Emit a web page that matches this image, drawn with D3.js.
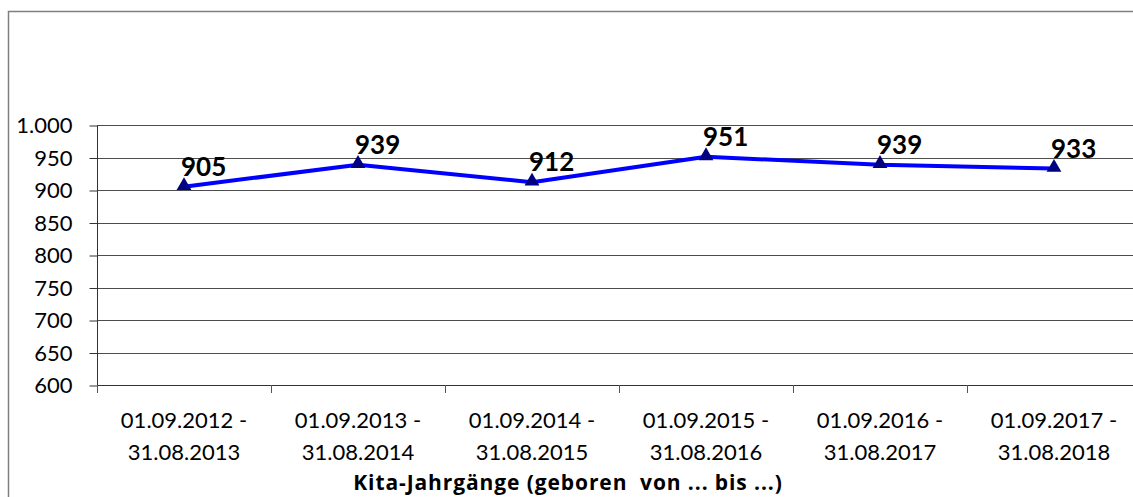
<!DOCTYPE html>
<html>
<head>
<meta charset="utf-8">
<script src="https://cdn.jsdelivr.net/npm/d3@7"></script>
<style>
  body { margin: 0; background: #fff; }
  svg { display: block; font-family: Lato, "Open Sans", sans-serif; }
</style>
</head>
<body>
<div id="chart"></div>
<script>
// chart data
const periodStart = ["01.09.2012 -", "01.09.2013 -", "01.09.2014 -", "01.09.2015 -", "01.09.2016 -", "01.09.2017 -"];
const periodEnd = ["31.08.2013", "31.08.2014", "31.08.2015", "31.08.2016", "31.08.2017", "31.08.2018"];
const children = [905, 939, 912, 951, 939, 933];
const yTicks = [600, 650, 700, 750, 800, 850, 900, 950, 1000];
const xTitle = "Kita-Jahrgänge (geboren  von ... bis ...)";

const width = 1133, height = 497;
let margin = ({top: 125, left: 97, bandW: 174, bottom: 385});

const svg = d3.select("#chart").append("svg")
    .attr("width", width)
    .attr("height", height);

// outer frame (cut off on the right / bottom like the source)
svg.append("rect")
    .attr("x", 8.5).attr("y", 11.5)
    .attr("width", width + 20).attr("height", height + 20)
    .attr("fill", "none")
    .attr("stroke", "#7f7f7f")
    .attr("stroke-width", 1.5);

let x = d3.scaleBand()
    .domain(d3.range(children.length))
    .range([margin.left, margin.left + margin.bandW * children.length]);

let y = d3.scaleLinear()
    .domain([600, 1000])
    .range([margin.bottom, margin.top]);

let deFormat = d3.formatLocale({decimal: ",", thousands: ".", grouping: [3], currency: ["", " €"]}).format(",d");

// gridlines
svg.append("g")
    .selectAll("line")
    .data(yTicks.filter(d => d > 600))
    .join("line")
      .attr("x1", margin.left).attr("x2", width)
      .attr("y1", d => Math.round(y(d)) + 0.5)
      .attr("y2", d => Math.round(y(d)) + 0.5)
      .attr("stroke", "#4d4d4d")
      .attr("stroke-width", 1);

// y axis
let yAxis = g => g
    .attr("transform", `translate(${margin.left + 0.5},0.5)`)
    .call(d3.axisLeft(y).tickValues(yTicks).tickSize(8).tickPadding(17).tickFormat(deFormat))
    .call(g => g.select(".domain").attr("stroke", "#333").attr("d", `M0,${y(1000)}V${y(600)}`))
    .call(g => g.selectAll(".tick line").attr("stroke", "#333"))
    .call(g => g.selectAll(".tick text")
      .attr("font-size", "22px").attr("fill", "#000")
      .attr("font-family", "Lato, 'Open Sans', sans-serif"));
svg.append("g").call(yAxis);

// x axis line and ticks at band boundaries
svg.append("line")
    .attr("x1", margin.left).attr("x2", width)
    .attr("y1", margin.bottom + 0.5).attr("y2", margin.bottom + 0.5)
    .attr("stroke", "#333");
svg.append("g")
    .selectAll("line")
    .data(d3.range(children.length + 1))
    .join("line")
      .attr("x1", d => Math.round(margin.left + d * x.bandwidth()) + 0.5)
      .attr("x2", d => Math.round(margin.left + d * x.bandwidth()) + 0.5)
      .attr("y1", margin.bottom)
      .attr("y2", margin.bottom + 8)
      .attr("stroke", "#555");

// category labels (two lines)
let cat = svg.append("g")
    .attr("font-size", "22px")
    .attr("text-anchor", "middle")
    .attr("fill", "#000");
cat.selectAll("text.l1")
    .data(periodStart)
    .join("text")
      .attr("class", "l1")
      .attr("x", (d, i) => x(i) + x.bandwidth() / 2)
      .attr("y", 428)
      .text(d => d);
cat.selectAll("text.l2")
    .data(periodEnd)
    .join("text")
      .attr("class", "l2")
      .attr("x", (d, i) => x(i) + x.bandwidth() / 2)
      .attr("y", 460)
      .text(d => d);

// axis title
svg.append("text")
    .attr("x", 568)
    .attr("y", 490)
    .attr("text-anchor", "middle")
    .attr("font-family", "'Open Sans', sans-serif")
    .attr("font-size", "21px")
    .attr("letter-spacing", "0.9px")
    .attr("font-weight", "bold")
    .style("white-space", "pre")
    .text(xTitle);

// the line
let line = d3.line()
    .x((d, i) => x(i) + x.bandwidth() / 2)
    .y(d => y(d));

svg.append("path")
    .datum(children)
    .attr("d", line)
    .attr("fill", "none")
    .attr("stroke", "#0000ff")
    .attr("stroke-width", 4)
    .attr("stroke-linejoin", "round");

// triangle markers
let tri = d3.symbol().type(d3.symbolTriangle).size(95);
svg.append("g")
    .selectAll("path")
    .data(children)
    .join("path")
      .attr("d", tri)
      .attr("transform", (d, i) => `translate(${x(i) + x.bandwidth() / 2},${y(d) - 1})`)
      .attr("fill", "#000080");

// value labels
svg.append("g")
    .selectAll("text")
    .data(children)
    .join("text")
      .attr("x", (d, i) => x(i) + x.bandwidth() / 2 - 3)
      .attr("y", d => y(d) - 11)
      .attr("font-size", "26px")
      .attr("font-weight", "bold")
      .attr("fill", "#000")
      .text(d => d);
</script>
</body>
</html>
